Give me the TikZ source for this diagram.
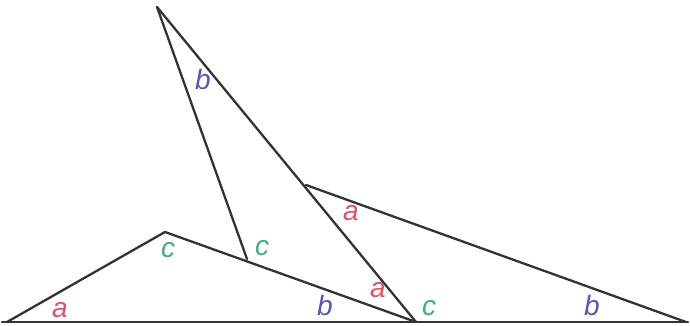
\documentclass[tikz,border=0pt]{standalone}
\usepackage{fontspec}
\setmainfont{Liberation Sans}
\definecolor{ared}{HTML}{E0506A}
\definecolor{cgreen}{HTML}{3DB07E}
\definecolor{bblue}{HTML}{5555C0}
\definecolor{edge}{HTML}{333333}
\begin{document}
\begin{tikzpicture}[x=1pt,y=-1pt,
  edgeline/.style={draw=edge,line width=2.3pt,line join=round,line cap=round},
  lbl/.style={inner sep=0pt,font=\fontsize{28}{30}\selectfont\itshape},
  la/.style={lbl,text=ared},
  lb/.style={lbl,text=bblue},
  lc/.style={lbl,text=cgreen}]
\useasboundingbox (0,0) rectangle (690,326);
% vertices
\coordinate (L) at (7,322);
\coordinate (A) at (165,232);
\coordinate (C) at (416,322);
\coordinate (T) at (157,7);
\coordinate (M) at (247,259);
\coordinate (P) at (306,185);
\coordinate (R) at (686,322);
\coordinate (BL) at (2,322);
\coordinate (BR) at (688,322);
% bottom line
\draw[edgeline] (BL) -- (BR);
% left triangle
\draw[edgeline] (L) -- (A) -- (C);
% tall triangle
\draw[edgeline] (T) -- (M);
\draw[edgeline] (T) -- (C);
% right triangle
\draw[edgeline] (P) -- (R);
% labels
\node[la] (a1) at (60,310) {a};
\node[lc] (c1) at (168,250) {c};
\node[lc] (c2) at (262,248) {c};
\node[lb] (b1) at (325,305) {b};
\node[la] (a2) at (378,290) {a};
\node[la] (a3) at (351,213) {a};
\node[lc] (c3) at (429,308) {c};
\node[lb] (b2) at (592,305) {b};
\node[lb] (b3) at (203,79) {b};
\end{tikzpicture}
\end{document}
